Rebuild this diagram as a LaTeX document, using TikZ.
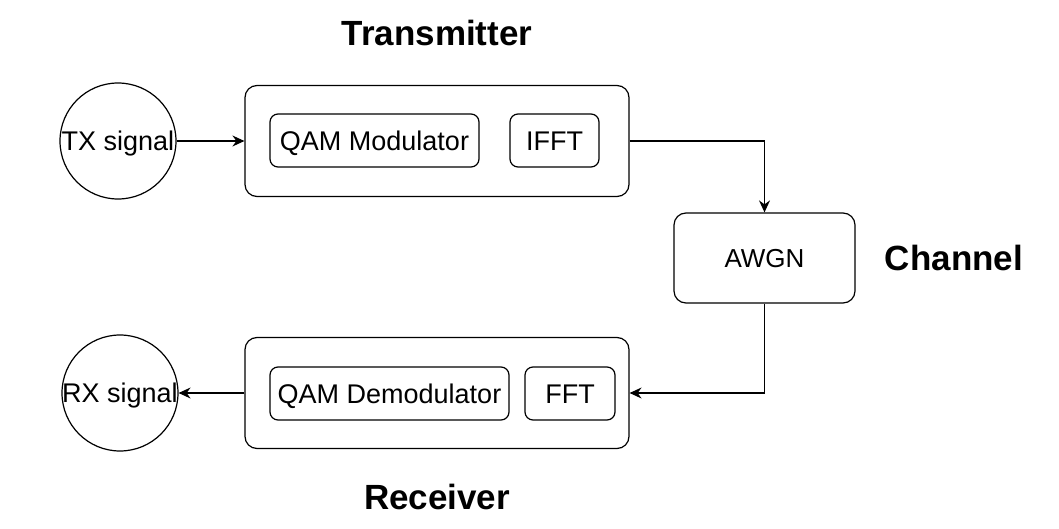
\documentclass[tikz,border=0pt]{standalone}
\usepackage{fontspec}
\setmainfont{Liberation Sans}
\usepackage{tikz}
\usetikzlibrary{arrows.meta}
\tikzset{
  blk/.style={draw,line width=1.2pt,rounded corners=12pt,inner sep=0pt},
  sub/.style={draw,line width=1.2pt,rounded corners=8pt,inner sep=0pt,
    minimum height=53pt,text height=19.5pt,text depth=0pt,
    font=\fontsize{27}{32}\selectfont},
  sig/.style={draw,circle,line width=1.2pt,minimum size=116pt,inner sep=0pt,
    label={[font=\fontsize{27}{32}\selectfont,inner sep=0pt,
      text height=19.5pt,text depth=0pt]center:#1}},
  ttl/.style={font=\fontsize{35}{42}\selectfont\bfseries},
  arr/.style={line width=1.2pt,-{Stealth[length=12pt,width=11pt,inset=4pt]}}
}
\def\subnode{\node[sub]}

\begin{document}
\begin{tikzpicture}[x=1pt,y=-1pt]
\useasboundingbox (0,0) rectangle (1059,529);
% titles
\node[ttl] (txttl) at (437,33) {Transmitter};
\node[ttl] (chttl) at (954,258) {Channel};
\node[ttl] (rxttl) at (437,497) {Receiver};
% signals
\node[sig=TX signal] (tx) at (118,141) {};
\node[sig=RX signal] (rx) at (120,393) {};
% transmitter
\node[blk,minimum width=384pt,minimum height=111pt] (txbox) at (437,141) {};
\subnode[minimum width=209pt] (qammod) at (374.5,140.5) {QAM Modulator};
\subnode[minimum width=89pt] (ifft) at (554.5,140.5) {IFFT};
% channel
\node[blk,minimum width=181pt,minimum height=90pt,text height=18.5pt,
  text depth=0pt,font=\fontsize{26}{31}\selectfont] (awgn) at (764.5,258) {AWGN};
% receiver
\node[blk,minimum width=384pt,minimum height=111pt] (rxbox) at (437,393) {};
\subnode[minimum width=239pt] (qamdem) at (389.5,393.5) {QAM Demodulator};
\subnode[minimum width=90pt] (fft) at (570,393.5) {FFT};
% links
\draw[arr] (tx.east) -- (txbox.west);
\draw[arr] (txbox.east) -| (awgn.north);
\draw[arr] (awgn.south) |- (rxbox.east);
\draw[arr] (rxbox.west) -- (rx.east);
\end{tikzpicture}
\end{document}
